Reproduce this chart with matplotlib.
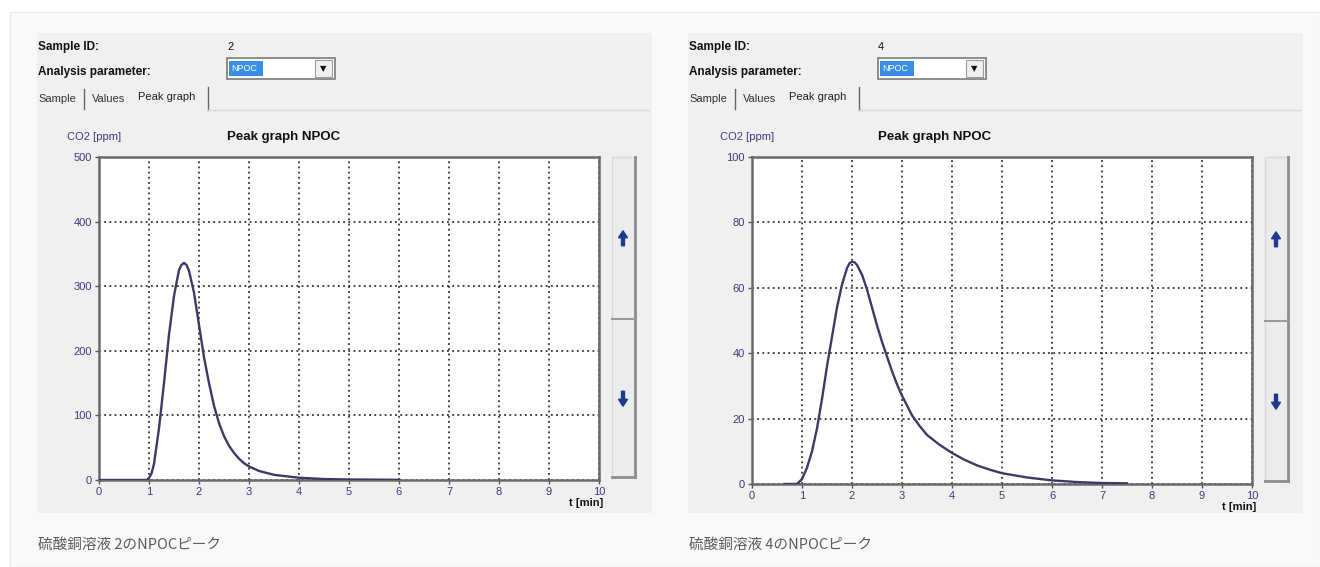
import numpy as np
import matplotlib
matplotlib.use("Agg")
import matplotlib.pyplot as plt
from matplotlib.patches import Rectangle, FancyArrow

# peak data
t_left = [0, 0.95, 1.0, 1.05, 1.1, 1.2, 1.3, 1.4, 1.5, 1.6, 1.65, 1.7, 1.75, 1.8, 1.9,
          2.0, 2.1, 2.2, 2.3, 2.4, 2.5, 2.6, 2.7, 2.8, 2.9, 3.0, 3.2, 3.5, 4.0, 4.5,
          5.0, 6.0]
co2_left = [0, 0, 3, 10, 25, 80, 150, 225, 285, 325, 333, 336, 333, 324, 290,
            240, 190, 150, 115, 88, 68, 53, 42, 33, 26, 21, 14, 8, 3.5, 1.5,
            0.8, 0.3]

t_right = [0.65, 0.9, 1.0, 1.1, 1.2, 1.3, 1.4, 1.5, 1.6, 1.7, 1.8, 1.9, 1.95, 2.0,
           2.05, 2.1, 2.2, 2.3, 2.4, 2.5, 2.6, 2.7, 2.8, 2.9, 3.0, 3.1, 3.2, 3.35,
           3.5, 3.75, 4.0, 4.25, 4.5, 4.75, 5.0, 5.5, 6.0, 6.5, 7.0, 7.5]
co2_right = [0, 0, 1.5, 5, 10, 17, 26, 36, 45, 54, 61, 66, 67.5, 68,
             67.8, 67, 64, 59.5, 54, 48.5, 43.5, 39, 34.5, 30.5, 27, 24, 21, 17.8,
             15, 12, 9.5, 7.4, 5.7, 4.4, 3.3, 2, 1.1, 0.6, 0.3, 0.2]

sample_ids = ["2", "4"]
ymax = [500, 100]
yticks = [[0, 100, 200, 300, 400, 500], [0, 20, 40, 60, 80, 100]]
captions = ["硫酸銅溶液 2のNPOCピーク", "硫酸銅溶液 4のNPOCピーク"]

W, H = 1320, 567
fig = plt.figure(figsize=(W / 100, H / 100), dpi=100)
fig.patch.set_facecolor("white")

# overlay in pixel coordinates for the UI chrome
bg = fig.add_axes([0, 0, 1, 1], zorder=0)
bg.set_xlim(0, W)
bg.set_ylim(H, 0)
bg.axis("off")
bg.add_patch(Rectangle((10, 12), W - 10, H - 12, facecolor="#f9f9f9",
                       edgecolor="#ebebeb", lw=1))

ui_font = "Liberation Sans"
tick_col = "#3e3a82"
line_col = "#3b3a66"


def px_axes(x0, y0, x1, y1):
    return fig.add_axes([x0 / W, 1 - y1 / H, (x1 - x0) / W, (y1 - y0) / H], zorder=2)


panels = [
    dict(ox=37, plot=(99, 157, 599, 480), t=t_left, y=co2_left),
    dict(ox=688, plot=(752, 157, 1252, 484), t=t_right, y=co2_right),
]

for i, p in enumerate(panels):
    ox = p["ox"]
    bg.add_patch(Rectangle((ox, 33), 615, 480, facecolor="#f0f0f0", edgecolor="none"))

    # header
    bg.text(ox + 1, 47, "Sample ID:", fontsize=8.5, fontweight="bold", family=ui_font,
            va="center", color="#111111")
    bg.text(ox + 1, 72, "Analysis parameter:", fontsize=8.5, fontweight="bold",
            family=ui_font, va="center", color="#111111")
    bg.text(ox + 190, 47, sample_ids[i], fontsize=8, family=ui_font, va="center",
            color="#111111")

    # dropdown
    dx = ox + 190
    bg.add_patch(Rectangle((dx, 58), 108, 21, facecolor="white", edgecolor="#7a7a7a", lw=1.2))
    bg.add_patch(Rectangle((dx + 2, 61), 34, 15, facecolor="#3a8ee6", edgecolor="none"))
    bg.text(dx + 4, 68.5, "NPOC", fontsize=6.5, family=ui_font, va="center", color="white")
    bg.add_patch(Rectangle((dx + 88, 60), 17, 17, facecolor="#f0f0f0", edgecolor="#9a9a9a", lw=0.8))
    bg.text(dx + 96.5, 69, "▼", fontsize=6, ha="center", va="center", color="#111111")

    # tabs
    bg.text(ox + 1, 99, "Sample", fontsize=8, family=ui_font, va="center", color="#333333")
    bg.plot([ox + 47, ox + 47], [89, 109], color="#666666", lw=1)
    bg.text(ox + 55, 99, "Values", fontsize=8, family=ui_font, va="center", color="#333333")
    bg.text(ox + 101, 97, "Peak graph", fontsize=8, family=ui_font, va="center", color="#222222")
    bg.plot([ox + 171, ox + 171], [87, 110], color="#666666", lw=1)
    bg.plot([ox + 171, ox + 612], [110, 110], color="#d6d6d6", lw=1)

    x0, y0, x1, y1 = p["plot"]
    bg.text(x0 - 32, 137, "CO2 [ppm]", fontsize=8, family=ui_font, va="center", color=tick_col)
    bg.text(ox + 190, 137, "Peak graph NPOC", fontsize=9.5, fontweight="bold",
            family=ui_font, va="center", color="#111111")
    bg.text(x1 + 4, y1 + 23, "t [min]", fontsize=8, fontweight="bold", family=ui_font,
            ha="right", va="center", color="#111111")

    # scroll buttons
    bx = x1 + 13
    bg.add_patch(Rectangle((bx, y0), 23, y1 - y0 - 3, facecolor="#ececec",
                           edgecolor="#d8d8d8", lw=1))
    bg.plot([bx + 23, bx + 23], [y0, y1 - 3], color="#8c8c8c", lw=2)
    bg.plot([bx, bx + 23], [y1 - 3, y1 - 3], color="#8c8c8c", lw=2)
    mid = (y0 + y1) / 2
    bg.plot([bx, bx + 23], [mid, mid], color="#9a9a9a", lw=1.5)
    ax_c = bx + 11
    up_y = y0 + (y1 - y0) * 0.25
    dn_y = y0 + (y1 - y0) * 0.75
    bg.add_patch(FancyArrow(ax_c, up_y + 8, 0, -15, width=3, head_width=9,
                            head_length=7, color="#1d3a8f", length_includes_head=True))
    bg.add_patch(FancyArrow(ax_c, dn_y - 8, 0, 15, width=3, head_width=9,
                            head_length=7, color="#1d3a8f", length_includes_head=True))

    # caption
    bg.text(ox + 1, 545, captions[i], fontsize=10.5, va="center", color="#5a5a5a",
            family=["Noto Sans CJK JP", "DejaVu Sans"])

    # the plot itself
    ax = px_axes(x0, y0, x1, y1)
    ax.set_facecolor("white")
    ax.plot(p["t"], p["y"], color=line_col, lw=1.7, zorder=3)
    ax.set_xlim(0, 10)
    ax.set_ylim(0, ymax[i])
    ax.set_xticks(range(0, 11))
    ax.set_yticks(yticks[i])
    ax.grid(True, color="#111111", linestyle=(0, (1.2, 2.2)), lw=1.1)
    for s in ax.spines.values():
        s.set_color("#6a6a6a")
        s.set_linewidth(1.8)
    ax.tick_params(axis="both", direction="out", length=3, width=1, color="#555555",
                   labelsize=8, labelcolor=tick_col, pad=2)
    for lab in ax.get_xticklabels() + ax.get_yticklabels():
        lab.set_family(ui_font)

fig.savefig("out.png", dpi=100)
